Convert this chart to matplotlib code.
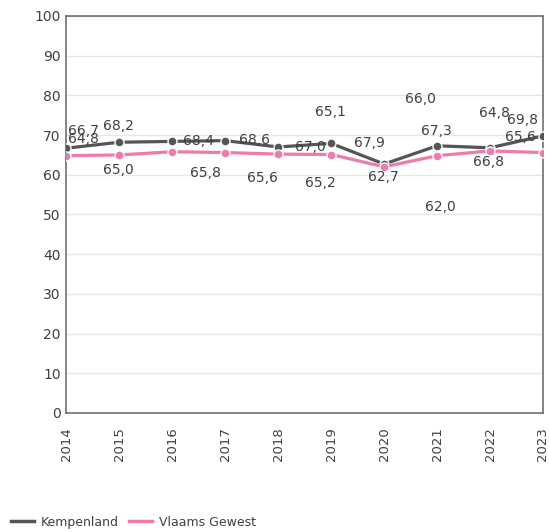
#! /usr/bin/env python
import matplotlib
matplotlib.use('Agg')
import matplotlib.pyplot as plt

years = ['2014', '2015', '2016', '2017', '2018', '2019', '2020', '2021', '2022', '2023']
kempenland = [66.7, 68.2, 68.4, 68.6, 67.0, 67.9, 62.7, 67.3, 66.8, 69.8]
vlaams = [64.8, 65.0, 65.8, 65.6, 65.2, 65.1, 62.0, 64.8, 66.0, 65.6]

# label offsets in pixels, as the labels sit in the original
k_off = [(17, 17), (-1, 16), (26, 0), (29, 1), (32, 0), (38, 0), (-1, -13), (-1, 15), (-2, -14), (-20, 16)]
v_off = [(17, 17), (-1, -15), (33, -21), (37, -25), (42, -29), (-1, 43), (56, -40), (57, 43), (-70, 52), (-23, 16)]

dark = '#555555'
pink = '#f07aab'
txt = '#404040'

fig = plt.figure(figsize=(5.49, 5.32), dpi=100)
fig.patch.set_facecolor('white')
ax = fig.add_axes([0.121, 0.2237, 0.868, 0.7463])

x = list(range(len(years)))
ax.plot(x, kempenland, color=dark, lw=2.3, marker='o', ms=6.5, mec='white', mew=1, zorder=3, label='Kempenland')
ax.plot(x, vlaams, color=pink, lw=2.3, marker='o', ms=6.5, mec='white', mew=1, zorder=4, label='Vlaams Gewest')

for i in x:
    ax.annotate(f"{kempenland[i]:.1f}".replace('.', ','), (i, kempenland[i]), xytext=k_off[i],
                textcoords='offset pixels', ha='center', va='center', fontsize=10, color=txt, zorder=5)
    ax.annotate(f"{vlaams[i]:.1f}".replace('.', ','), (i, vlaams[i]), xytext=v_off[i],
                textcoords='offset pixels', ha='center', va='center', fontsize=10, color=txt, zorder=5)

ax.set_xlim(0, len(years) - 1)
ax.set_ylim(0, 100)
ax.set_yticks(range(0, 101, 10))
ax.set_xticks(x)
ax.set_xticklabels(years, rotation=90)
ax.yaxis.grid(True, color='#e6e6e6', lw=1)
ax.set_axisbelow(True)
for s in ax.spines.values():
    s.set_color('#707070')
    s.set_linewidth(1.2)
ax.tick_params(axis='both', length=0, labelsize=10, labelcolor=txt, pad=4)
ax.tick_params(axis='x', pad=10, labelsize=9.5)

leg = fig.legend(loc='lower left', bbox_to_anchor=(0.0, -0.015), ncol=2, frameon=False,
                 fontsize=9, handlelength=1.8, handletextpad=0.6, columnspacing=0.8,
                 labelcolor=txt)
for h in leg.legend_handles:
    h.set_marker('')
    h.set_linewidth(2.5)

fig.savefig('out.png', dpi=100)
plt.close()
